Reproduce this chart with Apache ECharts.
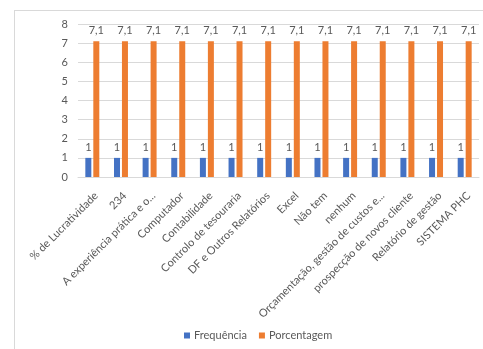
<!DOCTYPE html>
<html>
<head>
<meta charset="utf-8">
<script src="https://cdn.jsdelivr.net/npm/echarts@6/dist/echarts.min.js"></script>
<style>
  html, body { margin: 0; padding: 0; background: #fff; }
  #chart { width: 483px; height: 349px; }
</style>
</head>
<body>
<div id="chart"></div>
<script>
const categories = [
  "% de Lucratividade", "234", "A experiência prática e o...", "Computador",
  "Contabilidade", "Controlo de tesouraria", "DF e Outros Relatórios", "Excel",
  "Não tem", "nenhum", "Orçamentação, gestão de custos e...",
  "prospecção de novos cliente", "Relatório de gestão", "SISTEMA PHC"
];
const frequencia = [1, 1, 1, 1, 1, 1, 1, 1, 1, 1, 1, 1, 1, 1];
const porcentagem = [7.1, 7.1, 7.1, 7.1, 7.1, 7.1, 7.1, 7.1, 7.1, 7.1, 7.1, 7.1, 7.1, 7.1];

const textColor = "#595959";
const font = "Lato, 'Liberation Sans', sans-serif";
const comma = (p) => String(p.value).replace(".", ",");

const chart = echarts.init(document.getElementById("chart"));
chart.setOption({
  animation: false,
  textStyle: { fontFamily: font },
  graphic: [
    { type: "line", shape: { x1: 14, y1: 10.5, x2: 483, y2: 10.5 }, style: { stroke: "#d9d9d9", lineWidth: 1 } },
    { type: "line", shape: { x1: 14.5, y1: 10, x2: 14.5, y2: 349 }, style: { stroke: "#d9d9d9", lineWidth: 1 } }
  ],
  grid: { left: 78, right: 4, top: 24, bottom: 172, containLabel: false },
  legend: {
    bottom: 3, left: 179, itemWidth: 6, itemHeight: 6, itemGap: 12,
    icon: "rect",
    textStyle: { color: textColor, fontSize: 11, fontFamily: font, padding: [0, 0, 0, -1] },
    data: ["Frequência", "Porcentagem"]
  },
  xAxis: {
    type: "category",
    data: categories,
    axisLine: { lineStyle: { color: "#d9d9d9" } },
    axisTick: { show: false },
    axisLabel: {
      rotate: 45, color: textColor, fontSize: 11, interval: 0, margin: 13,
      verticalAlign: "top", fontFamily: font
    }
  },
  yAxis: {
    type: "value", min: 0, max: 8, interval: 1,
    axisLine: { show: false }, axisTick: { show: false },
    axisLabel: { color: textColor, fontSize: 11, margin: 10, fontFamily: font },
    splitLine: { lineStyle: { color: "#d9d9d9" } }
  },
  series: [
    {
      name: "Frequência", type: "bar", data: frequencia,
      barWidth: 6, barGap: "33%",
      itemStyle: { color: "#4472C4" },
      label: { show: true, position: "top", color: textColor, fontSize: 11, formatter: comma }
    },
    {
      name: "Porcentagem", type: "bar", data: porcentagem,
      barWidth: 6,
      itemStyle: { color: "#ED7D31" },
      label: { show: true, position: "top", color: textColor, fontSize: 11, formatter: comma }
    }
  ]
});
</script>
</body>
</html>
